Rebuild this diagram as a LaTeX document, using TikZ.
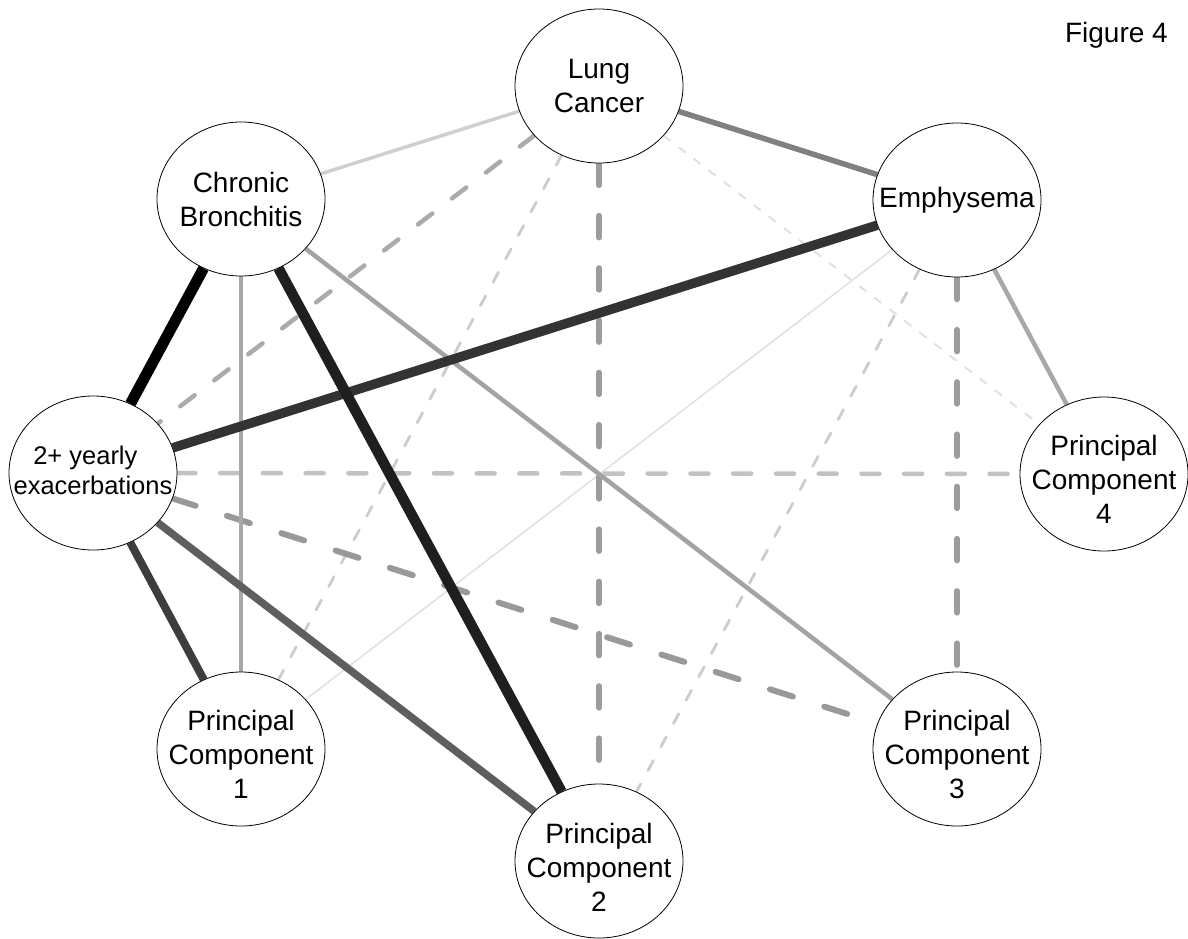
\documentclass[tikz,border=0pt]{standalone}
\usepackage{fontspec}
\setmainfont{Liberation Sans}
\usetikzlibrary{shapes.geometric,backgrounds}
\tikzset{
  var/.style={ellipse,draw,fill=white,line width=0.8pt,minimum width=168pt,minimum height=154pt,inner sep=0pt},
  every label/.style={align=center,font=\fontsize{28}{34}\selectfont},
  plink/.style 2 args={draw=#1,line width=#2pt},
  nlink/.style 2 args={draw=#1,line width=#2pt,line cap=round,dash pattern=on #2*4pt off #2*5.5pt}
}
\begin{document}
\begin{tikzpicture}[x=1pt,y=-1pt]
\useasboundingbox (0,0) rectangle (1188,938);
\node[var,label=center:Lung\\Cancer] (lc) at (599,86) {};
\node[var,label=center:Emphysema] (emph) at (957,200) {};
\node[var,label=center:Chronic\\Bronchitis] (cb) at (241,199) {};
\node[var,label={[font=\fontsize{25.5}{30}\selectfont,yshift=3pt]center:2+ yearly\hspace*{0.6em}\\exacerbations}] (exa) at (93,473) {};
\node[var,label={[yshift=-5pt]center:Principal\\Component\\4}] (pc4) at (1104,474) {};
\node[var,label={[yshift=-5pt]center:Principal\\Component\\1}] (pc1) at (241,749) {};
\node[var,label={[yshift=-5pt]center:Principal\\Component\\3}] (pc3) at (957,749) {};
\node[var,label={[yshift=-6pt]center:Principal\\Component\\2}] (pc2) at (599,861) {};
\node[font=\fontsize{28}{34}\selectfont,anchor=base east,inner sep=0pt] (fig) at (1168,42) {Figure 4};
\begin{scope}[on background layer]
\draw[plink={black!12}{1.5}] (emph) -- (pc1);
\draw[plink={black!19}{3.5}] (lc) -- (cb);
\draw[nlink={black!12}{2}] (lc) -- (pc4);
\draw[nlink={black!20}{2.8}] (lc) -- (pc1);
\draw[nlink={black!20}{2.8}] (emph) -- (pc2);
\draw[nlink={black!24}{4.5}] (exa) -- (pc4);
\draw[nlink={black!33}{4.5}] (lc) -- (exa);
\draw[nlink={black!39}{5.5}] (lc) -- (pc2);
\draw[nlink={black!39}{5.5}] (emph) -- (pc3);
\draw[nlink={black!40}{6}] (exa) -- (pc3);
\draw[plink={black!34}{4.5}] (cb) -- (pc1);
\draw[plink={black!36}{4.5}] (cb) -- (pc3);
\draw[plink={black!34}{4.5}] (emph) -- (pc4);
\draw[plink={black!50}{5.5}] (lc) -- (emph);
\draw[plink={black!63}{7.5}] (exa) -- (pc2);
\draw[plink={black!76}{8}] (exa) -- (pc1);
\draw[plink={black!80}{9.5}] (emph) -- (exa);
\draw[plink={black!88}{10.5}] (cb) -- (pc2);
\draw[plink={black}{11}] (cb) -- (exa);
\end{scope}
\end{tikzpicture}
\end{document}
